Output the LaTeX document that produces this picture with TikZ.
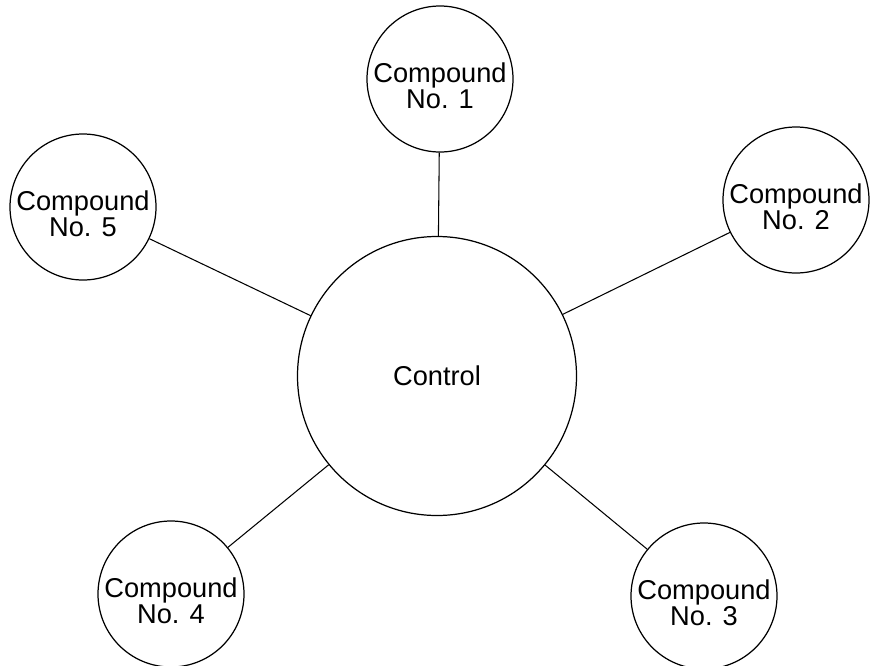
\documentclass[tikz,border=0pt]{standalone}
\usepackage{fontspec}
\setmainfont{Liberation Sans}
\usetikzlibrary{positioning}

\begin{document}
\begin{tikzpicture}[every node/.style={font=\fontsize{15.5}{15}\selectfont, align=center},
		comp/.style={draw, circle, line width=0.7pt, inner sep=0pt, minimum size=2.92cm,
			label={[yshift=-0.13cm]center:#1}},
		link/.style={line width=0.6pt}]
			\useasboundingbox (0,0) rectangle (17.46,-13.3);
			\node[draw, circle, line width=0.7pt, inner sep=0pt, minimum size=5.58cm] (ctrl) at (8.74,-7.52) {Control};
			
			\node[comp={Compound\\No. 1}] (c1) at (8.80,-1.58) {};
			\node[comp={Compound\\No. 2}] (c2) at (15.92,-4.00) {};
			\node[comp={Compound\\No. 3}] (c3) at (14.08,-11.92) {};
			\node[comp={Compound\\No. 4}] (c4) at (3.42,-11.88) {};
			\node[comp={Compound\\No. 5}] (c5) at (1.66,-4.14) {};
			
			\draw[link] (ctrl) -- (c1);
			\draw[link] (ctrl) -- (c2);
			\draw[link] (ctrl) -- (c3);
			\draw[link] (ctrl) -- (c4);
			\draw[link] (ctrl) -- (c5);
			
		\end{tikzpicture}
\end{document}
